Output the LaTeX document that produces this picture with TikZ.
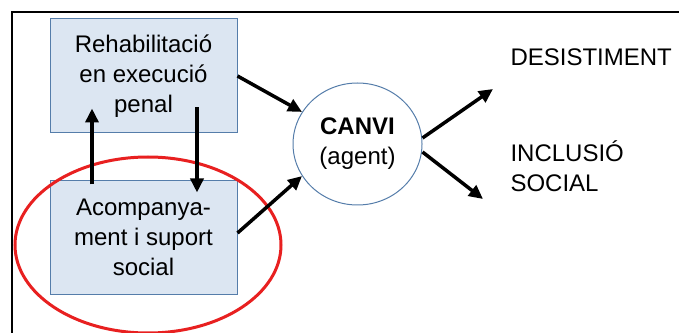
\documentclass[tikz,border=0pt]{standalone}
\usepackage{fontspec}
\setmainfont{Liberation Sans}
\usetikzlibrary{arrows.meta,shapes.geometric}
\definecolor{boxfill}{RGB}{220,230,242}
\definecolor{boxline}{RGB}{85,125,170}
\definecolor{ringred}{RGB}{232,32,32}
\begin{document}
\begin{tikzpicture}[x=1pt,y=1pt,
  txt/.style={font=\fontsize{24}{30}\selectfont, align=center},
  bluebox/.style={txt, draw=boxline, line width=1pt, fill=boxfill, minimum width=187pt, minimum height=114pt, inner sep=0pt},
  arr/.style={line width=3.5pt, -{Triangle[length=14pt,width=13pt]}}]
\useasboundingbox (0,0) rectangle (679,332);
\begin{scope}
\clip (0,0) rectangle (679,332);
\draw[line width=2.5pt] (12,-20) rectangle (720,320);
\end{scope}
\node[bluebox] (rehab) at (143.5,256) {Rehabilitació\\en execució\\penal};
\node[bluebox, minimum height=113pt] (acomp) at (143.5,94.5) {Acompanya-\\ment i suport\\social};
\node[txt, draw=boxline, line width=1pt, fill=white, ellipse, minimum width=129pt, minimum height=122pt, inner sep=0pt] (canvi) at (357.5,188) {\textbf{CANVI}\\(agent)};
\node[txt, anchor=base west] (desist) at (507,266) {DESISTIMENT};
\node[txt, anchor=base west, align=left] (inclusio) at (507,140) {INCLUSIÓ\\SOCIAL};
\draw[ringred, line width=3pt] (148,87) ellipse (133 and 88);
%arrows
\draw[arr] ([xshift=-51.5pt,yshift=-4pt]acomp.north) -- ([xshift=-51.5pt,yshift=25pt]rehab.south);
\draw[arr] ([xshift=53.5pt,yshift=26pt]rehab.south) -- ([xshift=53.5pt,yshift=-12pt]acomp.north);
\draw[arr] (rehab.east) -- (canvi.150);
\draw[arr] ([yshift=4.5pt]acomp.east) -- (canvi.-150);
\draw[arr] ([yshift=6pt]canvi.east) coordinate (c1) -- (493,243) coordinate (d1);
\draw[arr] ([yshift=-8pt]canvi.east) coordinate (c2) -- (483,133) coordinate (i1);
\end{tikzpicture}
\end{document}
